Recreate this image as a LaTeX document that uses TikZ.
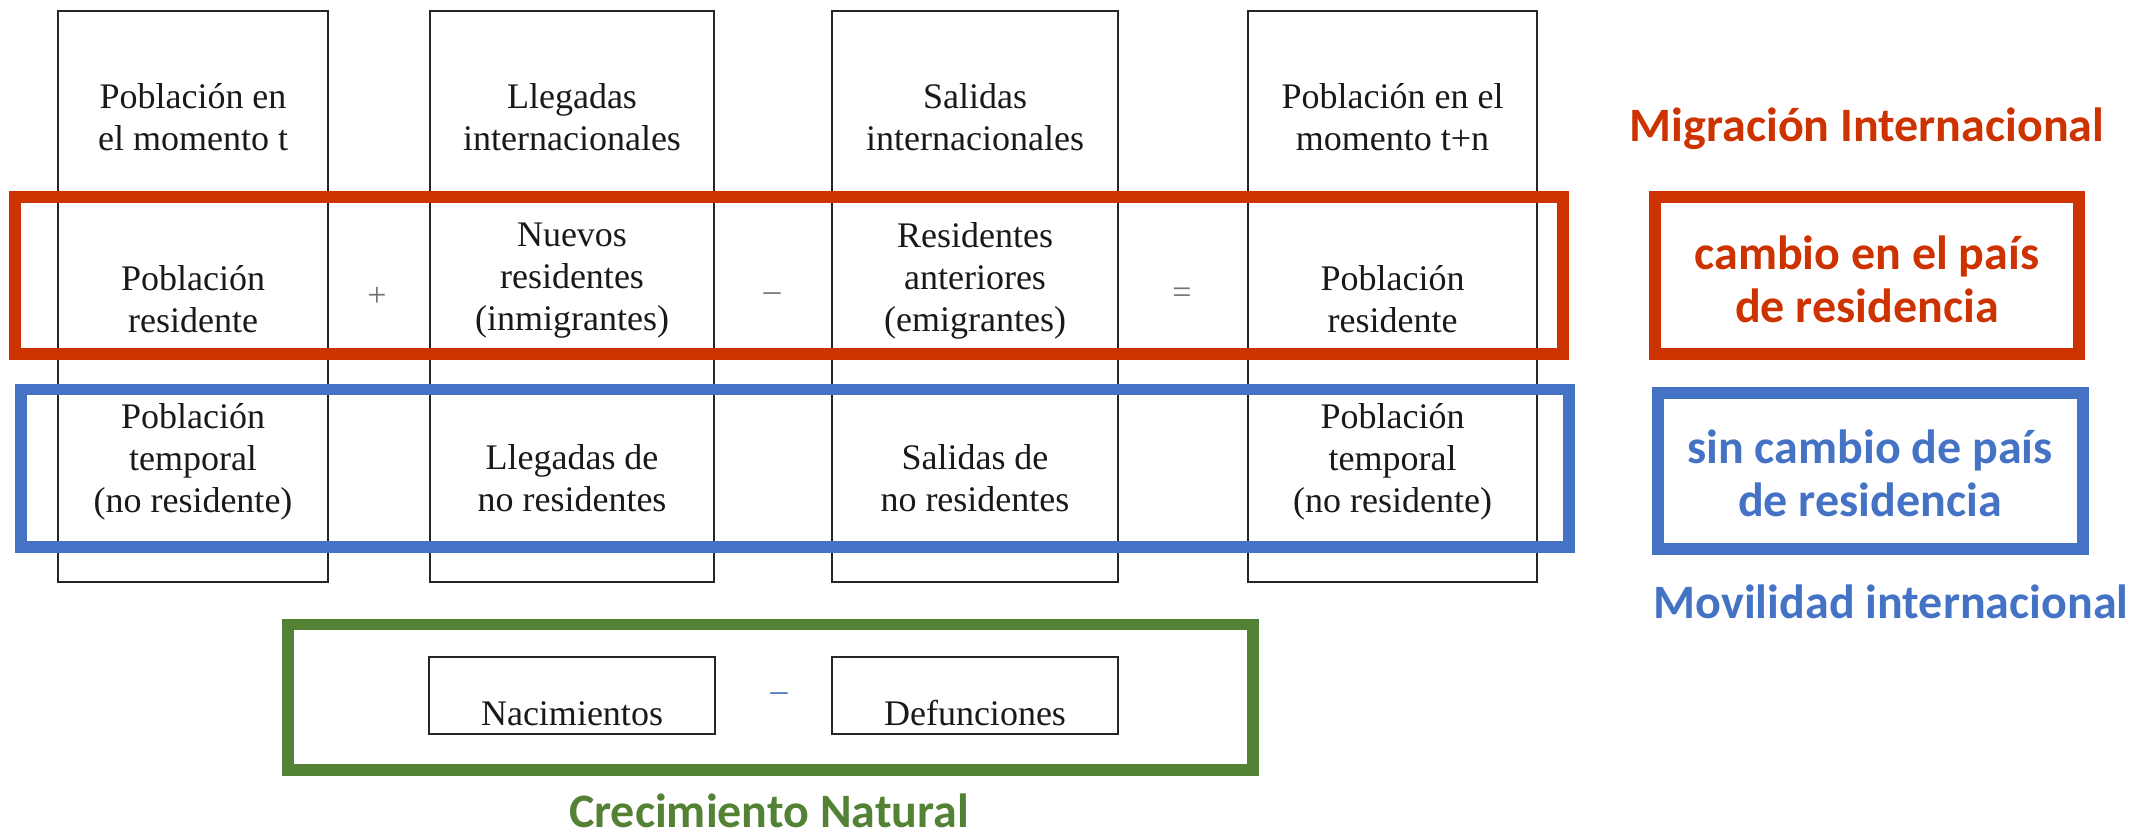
\documentclass[tikz,border=0pt]{standalone}
\usepackage{fontspec}
\setmainfont{Liberation Serif}
\newfontfamily\calfont{Carlito}
\definecolor{myred}{HTML}{CC3300}
\definecolor{myblue}{HTML}{4472C4}
\definecolor{mygreen}{HTML}{548235}
\begin{document}
\begin{tikzpicture}[x=0.5pt,y=-0.5pt,
  col/.style={draw=black!85,line width=1pt},
  cell/.style={align=center,font=\fontsize{18}{21}\selectfont,text=black!90,inner sep=0pt},
  op/.style={font=\fontsize{17}{20}\selectfont,text=black!55,inner sep=0pt},
  band/.style={line width=5.75pt},
  lab/.style={font=\calfont\bfseries\fontsize{24}{26.5}\selectfont,align=center,inner sep=0pt},
  smallbox/.style={draw=black!85,line width=1pt,minimum width=143pt,minimum height=38.5pt,inner sep=0pt}]
\useasboundingbox (0,0) rectangle (2131,835);
% columns
\draw[col] (58,11) rectangle (328,582);
\draw[col] (430,11) rectangle (714,582);
\draw[col] (832,11) rectangle (1118,582);
\draw[col] (1248,11) rectangle (1537,582);
% row 1
\node[cell] (a1) at (193,117) {Población en\\el momento t};
\node[cell] (b1) at (572,117) {Llegadas\\internacionales};
\node[cell] (c1) at (975,117) {Salidas\\internacionales};
\node[cell] (d1) at (1392.5,117) {Población en el\\momento t+n};
% row 2
\node[cell] (a2) at (193,299) {Población\\residente};
\node[cell] (b2) at (572,281) {Nuevos\\residentes\\(inmigrantes)};
\node[cell] (c2) at (975,281) {Residentes\\anteriores\\(emigrantes)};
\node[cell] (d2) at (1392.5,299) {Población\\residente};
\node[op] (plus) at (377,297) {+};
\node[op] (minus) at (772,297) {–};
\node[op] (eq) at (1182,296) {=};
% row 3
\node[cell] (a3) at (193,462) {Población\\temporal\\(no residente)};
\node[cell] (b3) at (572,478) {Llegadas de\\no residentes};
\node[cell] (c3) at (975,478) {Salidas de\\no residentes};
\node[cell] (d3) at (1392.5,462) {Población\\temporal\\(no residente)};
% bands
\draw[band,myred] (15,197) rectangle (1563,354);
\draw[band,myblue] (21,389.5) rectangle (1569,547);
% right labels
\node[lab,text=myred] (mig) at (1867,129) {Migración Internacional};
\draw[band,myred] (1655,197) rectangle (2079,354);
\node[lab,text=myred] (cam) at (1867,279) {cambio en el país\\de residencia};
\draw[band,myblue] (1658,393) rectangle (2083,549);
\node[lab,text=myblue] (sin) at (1870,473) {sin cambio de país\\de residencia};
\node[lab,text=myblue] (mov) at (1891,602) {Movilidad internacional};
% natural growth
\draw[band,mygreen] (288,624.5) rectangle (1253,770);
\node[smallbox] (nac) at (572,695.5) {};
\node[cell,anchor=base] (nact) at (572,725) {Nacimientos};
\node[smallbox] (def) at (975,695.5) {};
\node[cell,anchor=base] (deft) at (975,725) {Defunciones};
\node[op,text=myblue] (gm) at (779,697) {–};
\node[lab,text=mygreen,anchor=base] (cre) at (769,827) {Crecimiento Natural};
\end{tikzpicture}
\end{document}
